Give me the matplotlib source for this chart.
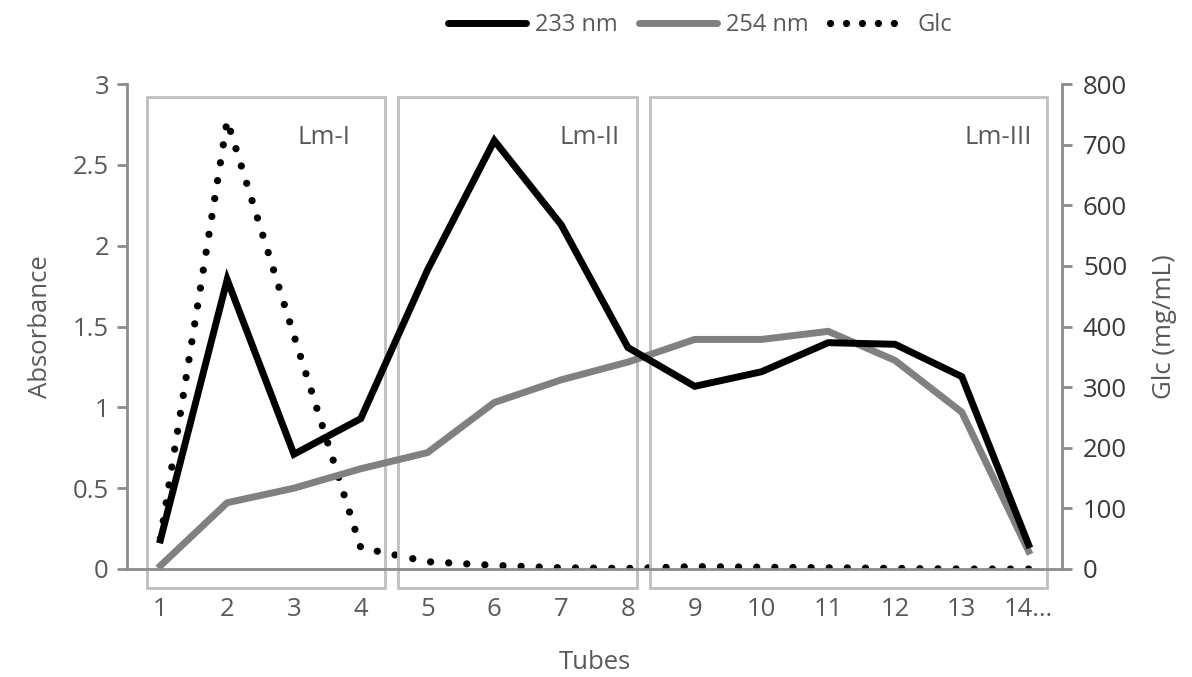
import matplotlib
matplotlib.use("Agg")
import matplotlib.pyplot as plt
from matplotlib.patches import Rectangle
from matplotlib.lines import Line2D

plt.rcParams['font.family'] = ['Open Sans', 'DejaVu Sans']

tubes = ["1", "2", "3", "4", "5", "6", "7", "8", "9", "10", "11", "12", "13", "14…"]
abs_233 = [0.18, 1.79, 0.71, 0.93, 1.85, 2.65, 2.13, 1.37, 1.13, 1.22, 1.40, 1.39, 1.19, 0.15]
abs_254 = [0.02, 0.41, 0.50, 0.62, 0.72, 1.03, 1.17, 1.28, 1.42, 1.42, 1.47, 1.29, 0.97, 0.11]
glc = [50, 740, 385, 35, 12, 6, 2, 1, 4, 3, 2, 1, 0, 0]
regions = ["Lm-I", "Lm-II", "Lm-III"]
region_spans = [(0.80, 4.36), (4.56, 8.13), (8.33, 14.27)]
region_label_x = [3.45, 7.42, 13.55]

W, H = 1192, 677
fig = plt.figure(figsize=(W / 100, H / 100), dpi=100)
ax = fig.add_axes([127 / W, (H - 569) / H, (1062 - 127) / W, (569 - 84) / H])
ax2 = ax.twinx()

x = list(range(1, len(tubes) + 1))
gray_txt = "#595959"
spine_c = "#8c8c8c"
fs = 18.5

ax.plot(x, abs_233, color="black", lw=5, solid_joinstyle="miter", zorder=3)
ax.plot(x, abs_254, color="#808080", lw=5, solid_joinstyle="miter", zorder=2)
ax2.plot(x, glc, color="black", lw=5.2, linestyle=(0, (0.01, 2.5)),
         dash_capstyle="round", zorder=4)

ax.set_xlim(0.5, len(tubes) + 0.5)
ax.set_ylim(0, 3)
ax2.set_ylim(0, 800)
ax.set_xticks(x)
ax.set_xticklabels(tubes)
ax.set_yticks([0, 0.5, 1, 1.5, 2, 2.5, 3])
ax.set_yticklabels(["0", "0.5", "1", "1.5", "2", "2.5", "3"])
ax2.set_yticks(range(0, 801, 100))

for a in (ax, ax2):
    for s in a.spines.values():
        s.set_visible(False)
ax.spines["left"].set_visible(True)
ax.spines["bottom"].set_visible(True)
ax2.spines["right"].set_visible(True)
for s in (ax.spines["left"], ax.spines["bottom"], ax2.spines["right"]):
    s.set_color(spine_c)
    s.set_linewidth(2)

ax.tick_params(axis="y", colors=spine_c, labelcolor=gray_txt, labelsize=fs,
               length=7, width=2, pad=6)
ax.tick_params(axis="x", length=0, labelcolor=gray_txt, labelsize=fs, pad=20)
ax2.tick_params(axis="y", colors=spine_c, labelcolor="#3a3a3a", labelsize=fs,
                length=7, width=2, pad=8)

ax.set_xlabel("Tubes", color=gray_txt, fontsize=fs, labelpad=20)
ax.set_ylabel("Absorbance", color=gray_txt, fontsize=fs, labelpad=14)
ax2.set_ylabel("Glc (mg/mL)", color=gray_txt, fontsize=fs, labelpad=18)

for name, (x0, x1), lx in zip(regions, region_spans, region_label_x):
    r = Rectangle((x0, -0.12), x1 - x0, 2.92 + 0.12, fill=False,
                  edgecolor="#bfbfbf", lw=2, clip_on=False, zorder=1)
    ax.add_patch(r)
    ax.text(lx, 2.67, name, ha="center", va="center", color=gray_txt, fontsize=fs)

handles = [
    Line2D([], [], color="black", lw=5, solid_capstyle="round"),
    Line2D([], [], color="#808080", lw=5, solid_capstyle="round"),
    Line2D([], [], color="black", lw=5.2, linestyle=(0, (0.01, 2.2)), dash_capstyle="round"),
]
fig.legend(handles, ["233 nm", "254 nm", "Glc"], loc="center", ncol=3,
           bbox_to_anchor=(700 / W, 1 - 25 / H), frameon=False, fontsize=17,
           handlelength=3.3, handletextpad=0.4, columnspacing=0.9, labelcolor=gray_txt)

ax.set_zorder(ax2.get_zorder() + 1)
ax.patch.set_visible(False)

fig.savefig("out.png", dpi=100)
